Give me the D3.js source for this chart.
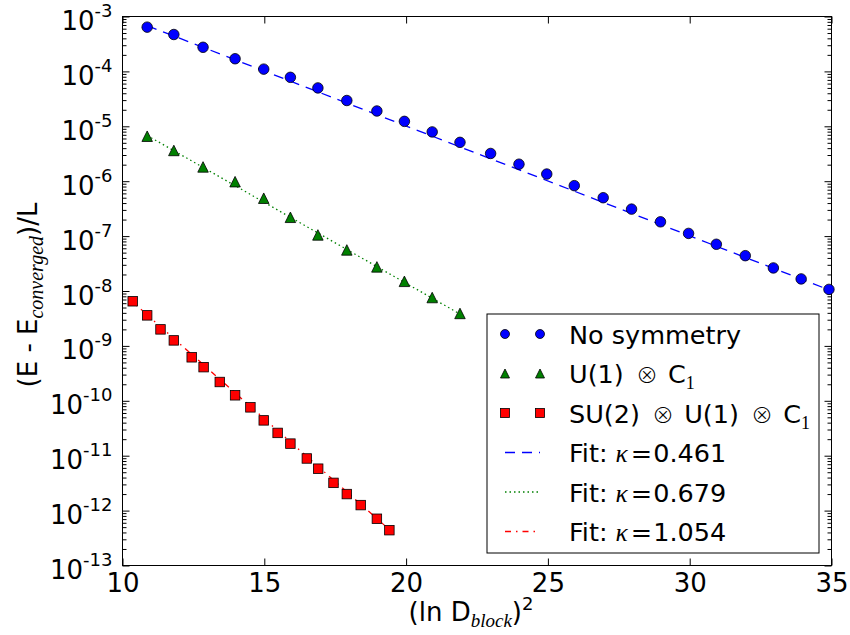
<!DOCTYPE html>
<html><head><meta charset="utf-8">
<script src="https://cdn.jsdelivr.net/npm/d3@7"></script>
<style>body{margin:0;background:#fff}svg{display:block}</style>
</head><body><svg id="c" width="850" height="635"></svg>
<script>
// ---------- data ----------
const xTicks = [10, 15, 20, 25, 30, 35];
const yTickExps = [-3, -4, -5, -6, -7, -8, -9, -10, -11, -12, -13];

const xNoSym = [10.87, 11.81, 12.84, 13.97, 14.98, 15.92, 16.89, 17.91, 18.97, 19.94, 20.92, 21.90, 22.98, 23.98, 24.96, 25.93, 26.95, 27.95, 28.97, 29.96, 30.94, 31.96, 32.95, 33.93, 34.91];
const yNoSym = [6.4e-4, 4.7e-4, 2.75e-4, 1.7e-4, 1.1e-4, 7.8e-5, 5.0e-5, 2.95e-5, 1.9e-5, 1.23e-5, 7.9e-6, 5.1e-6, 3.2e-6, 2.04e-6, 1.35e-6, 8.3e-7, 5.0e-7, 3.1e-7, 1.82e-7, 1.12e-7, 7.1e-8, 4.4e-8, 2.63e-8, 1.66e-8, 1.07e-8];

const xU1 = [10.87, 11.81, 12.84, 13.97, 14.98, 15.92, 16.89, 17.91, 18.97, 19.94, 20.92, 21.90];
const yU1 = [6.6e-6, 3.63e-6, 1.82e-6, 9.8e-7, 4.9e-7, 2.2e-7, 1.05e-7, 5.6e-8, 2.75e-8, 1.5e-8, 7.6e-9, 3.9e-9];

const xSU2 = [10.36, 10.87, 11.34, 11.81, 12.44, 12.86, 13.43, 13.97, 14.51, 14.98, 15.47, 15.92, 16.50, 16.90, 17.44, 17.91, 18.40, 18.97, 19.41];
const ySU2 = [6.5e-9, 3.6e-9, 2.0e-9, 1.26e-9, 6.2e-10, 4.1e-10, 2.2e-10, 1.26e-10, 7.6e-11, 4.4e-11, 2.6e-11, 1.66e-11, 8.9e-12, 5.8e-12, 3.2e-12, 2.0e-12, 1.26e-12, 7.1e-13, 4.4e-13];

// fit lines: end points (x, y)
const fitNoSymX = [10.87, 34.91], fitNoSymY = [6.8e-4, 1.05e-8];
const fitU1X = [10.87, 21.90], fitU1Y = [6.8e-6, 3.8e-9];
const fitSU2X = [10.36, 19.41], fitSU2Y = [6.3e-9, 4.5e-13];

const fitKappas = ["0.461", "0.679", "1.054"];

// ---------- layout ----------
const svg = d3.select("#c");
const L = 122.5, R = 831.5, T = 16.5, B = 565.5;
const x = d3.scaleLinear().domain([10, 35]).range([L, R]);
const y = d3.scaleLog().domain([1e-13, 1e-3]).range([B, T]);
const SANS = "'DejaVu Sans', sans-serif";
const SERIF_I = "'Liberation Serif', 'DejaVu Serif', serif";
const OTIMES = "'Noto Sans CJK JP', 'DejaVu Sans', sans-serif";
const FS = 26, SUB = 18;

const majors = yTickExps.map(e => Number("1e" + e));
const minors = [];
for (let e = -13; e < -3; e++) for (let m = 2; m <= 9; m++) minors.push(Number(m + "e" + e));

function styleAxis(g) {
  g.select(".domain").remove();
  g.selectAll(".tick line").attr("stroke", "#000").attr("stroke-width", 1);
  g.attr("font-family", SANS).attr("font-size", FS);
}

// left
const gl = svg.append("g").attr("transform", `translate(${L},0)`)
  .call(d3.axisLeft(y).tickValues(majors).tickSize(-7).tickPadding(10));
styleAxis(gl);
gl.selectAll(".tick text").each(function (d) {
  const t = d3.select(this);
  t.text(null).attr("dy", null).attr("y", 13).attr("fill", "#000");
  t.append("tspan").text("10");
  t.append("tspan").attr("dy", -13).attr("font-size", SUB).text(String(Math.round(Math.log10(d))));
});
svg.append("g").attr("transform", `translate(${L},0)`)
  .call(d3.axisLeft(y).tickValues(minors).tickSize(-4).tickFormat(() => "")).call(styleAxis);
// right
svg.append("g").attr("transform", `translate(${R},0)`)
  .call(d3.axisRight(y).tickValues(majors).tickSize(-7).tickFormat(() => "")).call(styleAxis);
svg.append("g").attr("transform", `translate(${R},0)`)
  .call(d3.axisRight(y).tickValues(minors).tickSize(-4).tickFormat(() => "")).call(styleAxis);
// bottom
const gb = svg.append("g").attr("transform", `translate(0,${B})`)
  .call(d3.axisBottom(x).tickValues(xTicks).tickSize(-7).tickFormat(d3.format("d")));
styleAxis(gb);
gb.selectAll(".tick text").attr("dy", null).attr("y", 26).attr("fill", "#000");
// top
svg.append("g").attr("transform", `translate(0,${T})`)
  .call(d3.axisTop(x).tickValues(xTicks).tickSize(-7).tickFormat(() => "")).call(styleAxis);

// frame
svg.append("rect").attr("x", L).attr("y", T).attr("width", R - L).attr("height", B - T)
  .attr("fill", "none").attr("stroke", "#000").attr("stroke-width", 1);

// ---------- fit lines ----------
const line = d3.line().x(d => x(d[0])).y(d => y(d[1]));
const fits = [
  {xs: fitNoSymX, ys: fitNoSymY, color: "#0000ff", dash: "10,7"},
  {xs: fitU1X, ys: fitU1Y, color: "#008000", dash: "1.5,3"},
  {xs: fitSU2X, ys: fitSU2Y, color: "#ff0000", dash: "6,5,1.5,5"}
];
fits.forEach(f => {
  svg.append("path").datum(d3.zip(f.xs, f.ys)).attr("d", line)
    .attr("fill", "none").attr("stroke", f.color).attr("stroke-width", 1.3)
    .attr("stroke-dasharray", f.dash);
});

// ---------- markers ----------
function marker(g, type, cx, cy, s, color) {
  if (type === "o") {
    g.append("circle").attr("cx", cx).attr("cy", cy).attr("r", s / 2)
      .attr("fill", color).attr("stroke", "#000").attr("stroke-width", 0.8);
  } else if (type === "^") {
    const h = s / 2;
    g.append("path").attr("d", `M${cx},${cy - h}L${cx - h},${cy + h}L${cx + h},${cy + h}Z`)
      .attr("fill", color).attr("stroke", "#000").attr("stroke-width", 0.8);
  } else {
    g.append("rect").attr("x", cx - s / 2).attr("y", cy - s / 2).attr("width", s).attr("height", s)
      .attr("fill", color).attr("stroke", "#000").attr("stroke-width", 0.8);
  }
}
const series = [
  {xs: xNoSym, ys: yNoSym, type: "o", color: "#0000ff", size: 10.5},
  {xs: xU1, ys: yU1, type: "^", color: "#008000", size: 10.5},
  {xs: xSU2, ys: ySU2, type: "s", color: "#ff0000", size: 9.5}
];
series.forEach(s => {
  const g = svg.append("g");
  s.xs.forEach((xv, i) => marker(g, s.type, x(xv), y(s.ys[i]), s.size, s.color));
});

// ---------- axis titles ----------
const xt = svg.append("text").attr("x", 471).attr("y", 621).attr("text-anchor", "middle")
  .attr("font-family", SANS).attr("font-size", FS).attr("fill", "#000");
xt.append("tspan").text("(ln D");
xt.append("tspan").attr("dy", 6).attr("font-family", SERIF_I).attr("font-style", "italic").attr("font-size", 19).text("block");
xt.append("tspan").attr("dy", -6).text(")");
xt.append("tspan").attr("dy", -11).attr("font-size", SUB).text("2");

const yt = svg.append("text").attr("transform", "translate(37,295) rotate(-90)").attr("text-anchor", "middle")
  .attr("font-family", SANS).attr("font-size", FS).attr("fill", "#000");
yt.append("tspan").text("(E - E");
yt.append("tspan").attr("dy", 6).attr("font-family", SERIF_I).attr("font-style", "italic").attr("font-size", 20).text("converged");
yt.append("tspan").attr("dy", -6).text(")/L");

// ---------- legend ----------
const lg = svg.append("g");
lg.append("rect").attr("x", 487).attr("y", 314).attr("width", 332).attr("height", 239)
  .attr("fill", "#fff").attr("stroke", "#000").attr("stroke-width", 1);
const rows = [334, 373.5, 413, 452.5, 492, 531.5];
const hx = [505, 540];
const legFS = 25.5;
function legText(ry) {
  return lg.append("text").attr("x", 569).attr("y", ry + 9.5)
    .attr("font-family", SANS).attr("font-size", legFS).attr("fill", "#000");
}
function otimes(t) {
  t.append("tspan").attr("dx", 4).attr("font-family", OTIMES).attr("font-size", 22).attr("font-weight", 300).text("\u2297");
}
series.forEach((s, i) => {
  hx.forEach(cx => marker(lg, s.type, cx, rows[i], 9, s.color));
});
legText(rows[0]).text("No symmetry");
{
  const t = legText(rows[1]);
  t.append("tspan").text("U(1) ");
  otimes(t);
  t.append("tspan").attr("dx", 2).text(" C");
  t.append("tspan").attr("dy", 6).attr("font-family", SERIF_I).attr("font-size", SUB).text("1");
}
{
  const t = legText(rows[2]);
  t.append("tspan").text("SU(2) ");
  otimes(t);
  t.append("tspan").attr("dx", 2).text(" U(1) ");
  otimes(t);
  t.append("tspan").attr("dx", 2).text(" C");
  t.append("tspan").attr("dy", 6).attr("font-family", SERIF_I).attr("font-size", SUB).text("1");
}
fits.forEach((f, i) => {
  const ry = rows[3 + i];
  lg.append("line").attr("x1", hx[0]).attr("x2", hx[1]).attr("y1", ry).attr("y2", ry)
    .attr("stroke", f.color).attr("stroke-width", 1.3).attr("stroke-dasharray", f.dash);
  const t = legText(ry);
  t.append("tspan").text("Fit: ");
  t.append("tspan").attr("font-family", SERIF_I).attr("font-style", "italic").text("\u03BA");
  t.append("tspan").attr("dx", 3).text("=");
  t.append("tspan").attr("dx", 1).text(fitKappas[i]);
});
</script></body></html>
